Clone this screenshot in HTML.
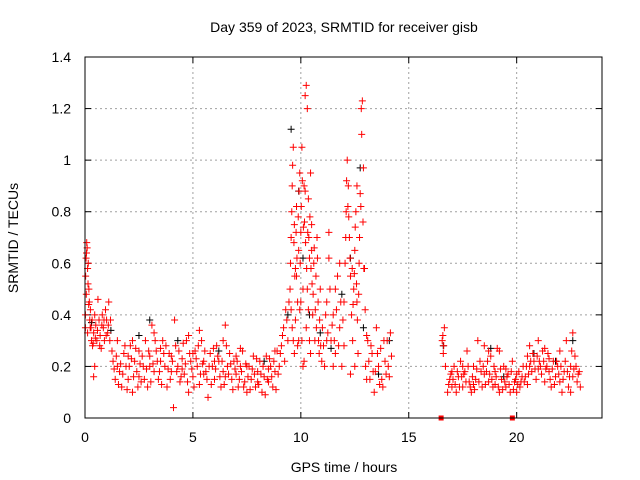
<!DOCTYPE html>
<html><head><meta charset="utf-8"><style>
body{margin:0;background:#fff;}
svg{display:block;font-family:"Liberation Sans",sans-serif;}
</style></head><body>
<svg id="chart" width="640" height="480" viewBox="0 0 640 480">
<rect x="0" y="0" width="640" height="480" fill="#fff"/>
<text x="344" y="32" font-size="14" text-anchor="middle">Day 359 of 2023, SRMTID for receiver gisb</text>
<text x="344" y="472" font-size="14" text-anchor="middle">GPS time / hours</text>
<text x="0" y="0" font-size="14" text-anchor="middle" transform="translate(18,238) rotate(-90)">SRMTID / TECUs</text>
<g id="grid"></g><g id="ticks"></g><g id="marks"></g>
<rect x="85" y="57" width="517" height="361" fill="none" stroke="#000" stroke-width="1"/>
</svg>
<script>
const xTicks=[0,5,10,15,20];
const yTicks=[0,0.2,0.4,0.6,0.8,1,1.2,1.4];
const yTickLabels=["0","0.2","0.4","0.6","0.8","1","1.2","1.4"];
const redPts=[
0.02,0.4,0.05,0.62,0.08,0.68,0.1,0.66,0.12,0.58,0.15,0.6,0.18,0.5,0.2,0.45,0.22,0.38,0.25,0.42,0.28,0.35,0.3,0.3,0.35,0.28,0.4,0.33,0.45,0.4,0.5,0.36,0.55,0.3,0.6,0.46,0.65,0.38,0.7,0.32,0.75,0.27,0.8,0.4,0.85,0.35,0.9,0.3,0.95,0.42,1.0,0.38,1.05,0.33,1.1,0.45,1.15,0.3,0.4,0.16,0.45,0.2,0.02,0.35,0.06,0.48,0.12,0.33,
0.03,0.55,0.07,0.64,0.14,0.52,0.17,0.44,0.24,0.35,0.33,0.38,0.38,0.29,0.48,0.31,0.58,0.34,0.68,0.28,0.78,0.36,0.88,0.38,0.98,0.32,1.08,0.36,1.18,0.38,1.25,0.26,
1.3,0.22,1.4,0.15,1.5,0.3,1.6,0.18,1.7,0.12,1.8,0.25,1.9,0.2,2.0,0.15,2.1,0.28,2.2,0.1,2.3,0.22,2.4,0.18,2.5,0.26,2.6,0.14,2.7,0.2,2.8,0.3,2.9,0.12,3.0,0.24,3.1,0.36,3.2,0.18,3.3,0.26,3.4,0.15,3.5,0.22,3.6,0.3,3.7,0.2,3.8,0.12,3.9,0.25,4.0,0.18,4.1,0.04,4.15,0.38,4.2,0.28,4.3,0.2,4.4,0.14,4.5,0.23,4.6,0.17,4.7,0.3,4.8,0.1,4.9,0.22,5.0,0.16,5.1,0.26,5.2,0.2,5.3,0.13,5.4,0.3,5.5,0.22,5.6,0.18,5.7,0.08,5.8,0.25,5.9,0.2,6.0,0.15,6.1,0.28,6.2,0.22,6.3,0.12,6.4,0.18,6.5,0.36,6.6,0.2,6.7,0.25,6.8,0.15,6.9,0.22,7.0,0.17,7.1,0.12,7.2,0.2,7.3,0.26,7.4,0.14,7.5,0.1,7.6,0.2,7.7,0.15,7.8,0.24,7.9,0.12,8.0,0.18,8.1,0.22,8.2,0.1,8.3,0.16,8.4,0.24,8.5,0.14,8.6,0.2,8.7,0.12,8.8,0.18,8.9,0.26,
1.5,0.2,2.0,0.24,2.5,0.16,3.0,0.2,3.5,0.27,4.0,0.24,4.5,0.19,5.0,0.25,5.5,0.17,6.0,0.22,6.5,0.16,7.0,0.24,7.5,0.2,8.0,0.14,8.5,0.19,
1.35,0.19,1.45,0.24,1.55,0.13,1.65,0.21,1.75,0.17,1.85,0.28,1.95,0.11,2.05,0.2,2.15,0.23,2.25,0.16,2.35,0.27,2.45,0.12,2.55,0.21,2.65,0.24,2.75,0.15,2.85,0.19,2.95,0.26,3.05,0.14,3.15,0.21,3.25,0.3,3.35,0.22,3.45,0.18,3.55,0.13,3.65,0.25,3.75,0.28,3.85,0.19,3.95,0.15,4.05,0.22,4.25,0.18,4.35,0.26,4.45,0.16,4.55,0.29,4.65,0.21,4.75,0.14,4.85,0.25,4.95,0.19,5.05,0.12,5.15,0.23,5.25,0.28,5.35,0.17,5.45,0.21,5.55,0.26,5.65,0.15,5.75,0.2,5.85,0.13,5.95,0.27,6.05,0.19,6.15,0.24,6.25,0.16,6.35,0.22,6.45,0.13,6.55,0.28,6.65,0.17,6.75,0.21,6.85,0.11,6.95,0.19,7.05,0.22,7.15,0.15,7.25,0.18,7.35,0.12,7.45,0.21,7.55,0.16,7.65,0.11,7.75,0.19,7.85,0.17,7.95,0.23,8.05,0.13,8.15,0.17,8.25,0.2,8.35,0.09,8.45,0.15,8.55,0.23,8.65,0.16,8.75,0.22,8.85,0.11,8.95,0.17,
2.2,0.3,3.2,0.33,4.8,0.32,5.3,0.34,6.4,0.3,7.2,0.27,8.8,0.26,
9.0,0.2,9.1,0.28,9.2,0.35,9.3,0.42,9.4,0.3,9.5,0.5,9.55,0.7,9.6,0.9,9.65,1.05,9.7,0.75,9.75,0.58,9.8,0.82,9.85,0.45,9.9,0.65,9.95,0.95,10.0,0.72,10.05,1.05,10.1,0.5,10.15,0.9,10.2,1.25,10.25,1.29,10.3,1.2,10.35,0.85,10.4,0.62,10.45,0.95,10.5,0.75,10.55,0.4,10.6,0.6,10.65,0.3,10.7,0.55,10.75,0.7,10.8,0.45,10.85,0.25,10.9,0.5,9.6,0.35,9.7,0.25,9.8,0.55,9.9,0.3,10.0,0.45,10.1,0.2,10.2,0.88,10.3,0.5,10.4,0.3,10.5,0.65,
9.05,0.25,9.15,0.32,9.25,0.22,9.35,0.38,9.45,0.45,9.52,0.6,9.58,0.8,9.62,0.98,9.68,0.68,9.72,0.55,9.78,0.72,9.82,0.62,9.88,0.78,9.92,0.88,9.97,0.6,10.02,0.82,10.07,0.92,10.12,0.74,10.17,0.76,10.22,0.68,10.27,0.58,10.32,0.72,10.37,0.7,10.42,0.78,10.47,0.58,10.52,0.52,10.57,0.48,10.62,0.66,10.67,0.42,10.72,0.35,10.77,0.62,10.82,0.3,10.87,0.38,10.92,0.28,10.97,0.22,9.55,0.42,9.65,0.3,9.75,0.38,9.85,0.28,9.95,0.42,10.05,0.3,10.15,0.22,10.25,0.35,10.35,0.42,10.45,0.25,
11.0,0.35,11.1,0.2,11.2,0.45,11.3,0.72,11.35,0.5,11.4,0.3,11.5,0.4,11.6,0.25,11.7,0.55,11.8,0.35,11.9,0.2,12.0,0.45,12.05,0.6,12.1,0.8,12.15,1.0,12.2,0.9,12.25,0.7,12.3,0.55,12.35,0.4,12.4,0.3,12.45,0.5,12.5,0.65,12.55,0.8,12.6,0.45,12.65,0.25,12.7,0.6,12.75,0.87,12.8,1.2,12.85,1.23,12.9,0.97,12.95,0.58,12.6,0.9,12.5,0.2,12.3,0.17,12.0,0.28,11.8,0.6,11.5,0.2,11.2,0.3,
11.05,0.28,11.15,0.4,11.25,0.33,11.45,0.36,11.55,0.3,11.65,0.42,11.75,0.28,11.85,0.45,11.95,0.38,12.08,0.7,12.12,0.92,12.18,0.82,12.22,0.78,12.28,0.62,12.38,0.58,12.42,0.44,12.48,0.56,12.52,0.74,12.58,0.52,12.62,0.38,12.68,0.48,12.72,0.7,12.78,0.82,12.82,1.1,12.88,0.76,12.92,0.58,12.98,0.42,11.3,0.62,11.6,0.5,
13.0,0.2,13.1,0.3,13.2,0.15,13.3,0.25,13.4,0.1,13.5,0.35,13.6,0.2,13.7,0.27,13.8,0.12,13.9,0.22,14.0,0.3,14.1,0.16,14.2,0.24,13.45,0.18,13.75,0.15,14.05,0.2,
13.05,0.15,13.15,0.22,13.25,0.28,13.35,0.18,13.55,0.25,13.65,0.13,13.85,0.3,13.95,0.17,14.15,0.33,13.05,0.32,
16.55,0.3,16.6,0.25,16.65,0.35,16.7,0.2,16.8,0.1,16.9,0.15,17.0,0.12,17.1,0.2,17.2,0.1,17.3,0.16,17.4,0.22,17.5,0.12,17.6,0.18,17.7,0.26,17.8,0.14,17.9,0.1,18.0,0.2,18.1,0.15,18.2,0.3,18.3,0.22,18.4,0.12,18.5,0.28,18.6,0.18,18.7,0.14,18.8,0.24,18.9,0.12,19.0,0.18,19.1,0.27,19.2,0.1,19.3,0.15,19.4,0.2,19.5,0.12,19.6,0.17,19.7,0.1,19.8,0.22,19.9,0.14,20.0,0.1,20.1,0.18,20.2,0.14,20.3,0.2,20.4,0.16,20.5,0.24,20.6,0.28,20.7,0.18,20.8,0.22,20.9,0.15,21.0,0.3,21.1,0.2,21.2,0.26,21.3,0.14,21.4,0.2,21.5,0.18,21.6,0.12,21.7,0.22,21.8,0.16,21.9,0.2,22.0,0.26,22.1,0.1,22.2,0.18,22.3,0.3,22.4,0.12,22.5,0.2,22.6,0.16,22.7,0.24,22.8,0.14,22.9,0.18,
17.0,0.18,17.5,0.2,18.0,0.13,18.5,0.17,19.0,0.13,19.5,0.19,20.0,0.17,20.5,0.13,21.0,0.19,21.5,0.23,22.0,0.14,22.5,0.1,
16.58,0.32,16.62,0.28,16.85,0.13,16.95,0.17,17.05,0.15,17.15,0.13,17.25,0.18,17.35,0.12,17.45,0.16,17.55,0.17,17.65,0.14,17.75,0.2,17.85,0.12,17.95,0.16,18.05,0.11,18.15,0.19,18.25,0.14,18.35,0.18,18.45,0.2,18.55,0.13,18.65,0.22,18.75,0.17,18.85,0.15,18.95,0.2,19.05,0.16,19.15,0.12,19.25,0.19,19.35,0.11,19.45,0.14,19.55,0.16,19.65,0.13,19.75,0.18,19.85,0.11,19.95,0.15,20.05,0.13,20.15,0.12,20.25,0.16,20.35,0.14,20.45,0.2,20.55,0.17,20.65,0.22,20.75,0.25,20.85,0.19,20.95,0.24,21.05,0.22,21.15,0.17,21.25,0.22,21.35,0.19,21.45,0.25,21.55,0.15,21.65,0.19,21.75,0.13,21.85,0.22,21.95,0.17,22.05,0.2,22.15,0.15,22.25,0.22,22.35,0.18,22.45,0.16,22.55,0.26,22.65,0.19,22.75,0.2,22.85,0.17,22.95,0.12,18.7,0.26,19.2,0.26,20.6,0.2,21.3,0.27,22.6,0.33
];
const blackPts=[0.3,0.37,1.2,0.34,2.5,0.32,3.0,0.38,4.3,0.3,6.2,0.26,8.3,0.22,9.4,0.4,9.55,1.12,9.9,0.88,10.1,0.62,10.4,0.4,10.9,0.33,11.4,0.27,11.9,0.48,12.3,0.62,12.75,0.97,12.9,0.35,13.6,0.17,14.1,0.3,16.6,0.28,18.8,0.27,19.4,0.16,20.8,0.25,21.8,0.22,22.6,0.3];
const zeroMarks=[16.5,19.8];
const X=h=>85+h*518/24, Y=v=>418-v*361/1.4;
const NS="http://www.w3.org/2000/svg";
const g=document.getElementById('grid'),tk=document.getElementById('ticks'),mk=document.getElementById('marks');
function el(t,a,p){const e=document.createElementNS(NS,t);for(const k in a)e.setAttribute(k,a[k]);p.appendChild(e);return e;}
xTicks.forEach(t=>{
 const x=X(t);
 if(t>0){const l=el('line',{x1:x,x2:x,y1:57,y2:418,stroke:'#a0a0a0','stroke-dasharray':'2,3'},g);
 
 }
 el('line',{x1:x,x2:x,y1:418,y2:412,stroke:'#000'},tk);
 el('line',{x1:x,x2:x,y1:57,y2:63,stroke:'#000'},tk);
 const s=el('text',{x:x,y:442,'font-size':14,'text-anchor':'middle'},tk);s.textContent=t;
 
 
});
yTicks.forEach((t,i)=>{
 const y=Y(t);
 if(t>0&&t<1.4){const l=el('line',{x1:85,x2:602,y1:y,y2:y,stroke:'#a0a0a0','stroke-dasharray':'2,3'},g);
 
 }
 el('line',{x1:85,x2:91,y1:y,y2:y,stroke:'#000'},tk);
 el('line',{x1:596,x2:602,y1:y,y2:y,stroke:'#000'},tk);
 const s=el('text',{x:71,y:y+5,'font-size':14,'text-anchor':'end'},tk);s.textContent=yTickLabels[i];
 
 
});
function plus(arr,col,name){
 let d='';
 for(let i=0;i<arr.length;i+=2){const x=X(arr[i]),y=Y(arr[i+1]);d+=`M${x-3.5},${y}h7M${x},${y-3.5}v7`;}
 const p=el('path',{d:d,stroke:col,'stroke-width':1,fill:'none'},mk);
 
 
}
plus(blackPts,'#000','black-series-points');
plus(redPts,'#ff0000','red-series-points');
zeroMarks.forEach(t=>{const r=el('rect',{x:X(t)-2.5,y:415.5,width:5,height:5,fill:'#ff0000'},mk);
 
 });
</script>
</body></html>
